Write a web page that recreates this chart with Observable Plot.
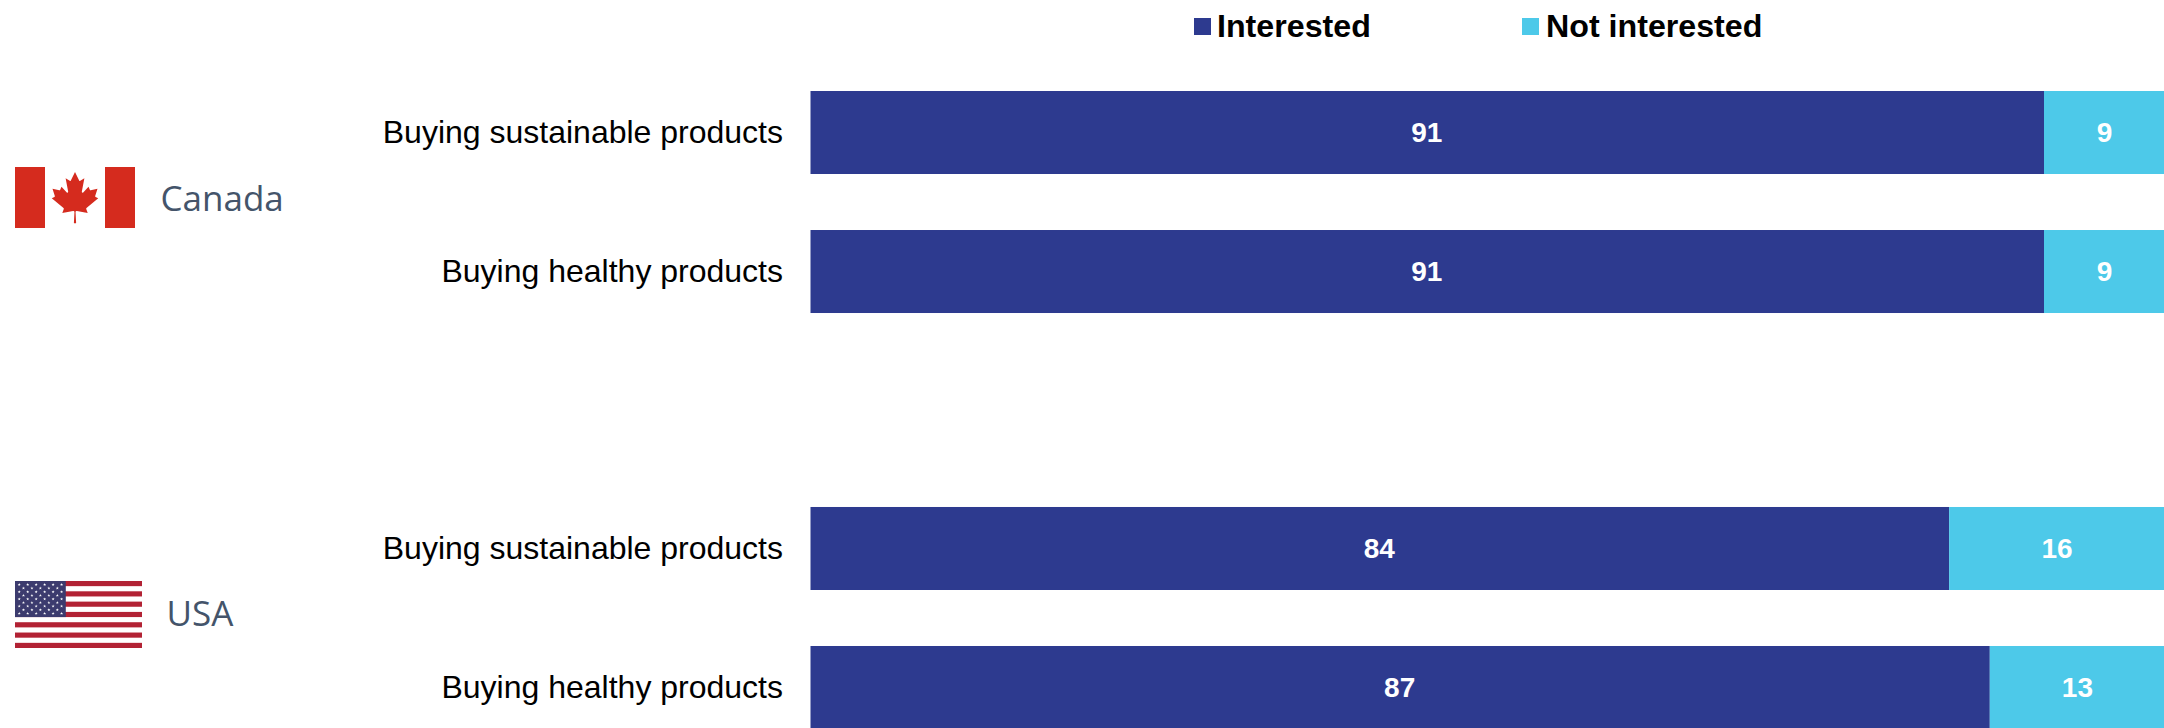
<!DOCTYPE html>
<html>
<head>
<meta charset="utf-8">
<script src="https://cdn.jsdelivr.net/npm/d3@7"></script>
<script src="https://cdn.jsdelivr.net/npm/@observablehq/plot@0.6"></script>
<style>
  html, body { margin: 0; padding: 0; background: #fff; overflow: hidden; }
  #chart { position: relative; width: 2164px; height: 728px; }
  #chart svg { display: block; }
  .key { position: absolute; top: 0; height: 54px; font: bold 32.2px "Liberation Sans", Arial, sans-serif; color: #000; }
  .key i { position: absolute; left: 0; top: 18px; width: 17px; height: 17px; }
  .key span { position: absolute; left: 23px; top: 8px; line-height: 36px; white-space: nowrap; }
</style>
</head>
<body>
<div id="chart"></div>
<script>
const countries = ["Canada", "USA"];
const activities = ["Buying sustainable products", "Buying healthy products"];
const responses = ["Interested", "Not interested"];
const responseColors = ["#2D3A8F", "#4DC9E9"];
const canadaInterested = [91, 91];
const canadaNotInterested = [9, 9];
const usaInterested = [84, 87];
const usaNotInterested = [16, 13];

const rows = [];
countries.forEach((country, c) => {
  const yes = c === 0 ? canadaInterested : usaInterested;
  const no = c === 0 ? canadaNotInterested : usaNotInterested;
  activities.forEach((activity, a) => {
    rows.push({country, activity, response: responses[0], value: yes[a]});
    rows.push({country, activity, response: responses[1], value: no[a]});
  });
});

// Flag artwork, kept as small standalone SVG images.
const toDataUri = (svg) => "data:image/svg+xml;charset=utf-8," + encodeURIComponent(svg);

const canadaFlag = toDataUri(`<svg xmlns="http://www.w3.org/2000/svg" viewBox="0 0 9600 4800" preserveAspectRatio="none">
<rect width="9600" height="4800" fill="#fff"/>
<rect width="2400" height="4800" fill="#D52B1E"/>
<rect x="7200" width="2400" height="4800" fill="#D52B1E"/>
<path fill="#D52B1E" d="M4890 4430l-45-863a95 95 0 0 1 111-98l859 151-116-320a65 65 0 0 1 20-73l941-762-212-99a65 65 0 0 1-34-79l186-572-542 115a65 65 0 0 1-73-38l-105-247-423 454a65 65 0 0 1-111-57l204-1052-327 189a65 65 0 0 1-91-27l-332-652-332 652a65 65 0 0 1-91 27l-327-189 204 1052a65 65 0 0 1-111 57l-423-454-105 247a65 65 0 0 1-73 38l-542-115 186 572a65 65 0 0 1-34 79l-212 99 941 762a65 65 0 0 1 20 73l-116 320 859-151a95 95 0 0 1 111 98l-45 863z"/>
</svg>`);

function starPoints(cx, cy, r) {
  const pts = [];
  for (let i = 0; i < 10; ++i) {
    const rad = i % 2 ? r * 0.382 : r;
    const a = -Math.PI / 2 + i * Math.PI / 5;
    pts.push(`${cx + rad * Math.cos(a)},${cy + rad * Math.sin(a)}`);
  }
  return pts.join(" ");
}

function usaFlagSvg() {
  const W = 7410, H = 3900, stripe = H / 13, cw = 2964, ch = stripe * 7;
  let body = `<rect width="${W}" height="${H}" fill="#fff"/>`;
  for (let i = 0; i < 13; i += 2) body += `<rect y="${i * stripe}" width="${W}" height="${stripe}" fill="#B22234"/>`;
  body += `<rect width="${cw}" height="${ch}" fill="#3C3B6E"/>`;
  for (let row = 0; row < 9; ++row) {
    const n = row % 2 ? 5 : 6;
    for (let col = 0; col < n; ++col) {
      const cx = cw / 12 * (2 * col + (row % 2 ? 2 : 1));
      const cy = ch / 10 * (row + 1);
      body += `<polygon fill="#fff" points="${starPoints(cx, cy, 95)}"/>`;
    }
  }
  return `<svg xmlns="http://www.w3.org/2000/svg" viewBox="0 0 ${W} ${H}" preserveAspectRatio="none">${body}</svg>`;
}

const flags = new Map([
  ["Canada", {src: canadaFlag, w: 120, h: 61, cx: 75, dy: -5, labelX: 160, labelDy: -2.5}],
  ["USA", {src: toDataUri(usaFlagSvg()), w: 127, h: 67, cx: 78.5, dy: -4, labelX: 166, labelDy: -4}]
]);

const plotLeft = 810.5;

const flagMarks = countries.map((country) => {
  const f = flags.get(country);
  return Plot.image([country], {
    fy: (d) => d,
    src: () => f.src,
    frameAnchor: "left",
    width: f.w,
    height: f.h,
    dx: f.cx - plotLeft - 0.5,
    dy: f.dy,
    preserveAspectRatio: "none"
  });
});

const countryLabels = countries.map((country) => {
  const f = flags.get(country);
  return Plot.text([country], {
    fy: (d) => d,
    text: (d) => d,
    frameAnchor: "left",
    textAnchor: "start",
    dx: f.labelX - plotLeft,
    dy: f.labelDy,
    fontFamily: "'Open Sans', 'Noto Sans', sans-serif",
    fontSize: 35,
    fill: "#44546A"
  });
});

const chart = Plot.plot({
  width: 2164,
  height: 728,
  marginTop: 91,
  marginBottom: -1,
  marginLeft: plotLeft,
  marginRight: 0,
  style: {background: "#fff", fontFamily: "'Liberation Sans', Arial, sans-serif"},
  x: {domain: [0, 100], range: [plotLeft, 2166], axis: null},
  y: {domain: activities, paddingInner: 0.4029, paddingOuter: 0, round: false, label: null},
  fy: {domain: countries, paddingInner: 0.4663, paddingOuter: 0, round: false, axis: null, label: null},
  color: {domain: responses, range: responseColors},
  marks: [
    Plot.barX(rows, Plot.stackX({x: "value", y: "activity", fy: "country", fill: "response", z: "response"})),
    Plot.text(rows, Plot.stackX({
      x: "value", y: "activity", fy: "country", z: "response",
      text: "value",
      dx: -1,
      fill: "#fff",
      fontWeight: "bold",
      fontSize: 28,
      fontFamily: "'Liberation Sans', Arial, sans-serif"
    })),
    Plot.axisY({
      tickSize: 0,
      tickPadding: 28,
      fontSize: 32,
      label: null,
      fill: "#000",
      fontFamily: "'Liberation Sans', Arial, sans-serif"
    }),
    ...flagMarks,
    ...countryLabels
  ]
});

const host = document.getElementById("chart");
host.appendChild(chart);

// Legend row above the first group of bars.
const keyLefts = [1194, 1522];
const keyGaps = [23, 24];
responses.forEach((name, i) => {
  const key = document.createElement("div");
  key.className = "key";
  key.style.left = keyLefts[i] + "px";
  const swatch = document.createElement("i");
  swatch.style.background = responseColors[i];
  const label = document.createElement("span");
  label.style.left = keyGaps[i] + "px";
  label.textContent = name;
  key.append(swatch, label);
  host.appendChild(key);
});
</script>
</body>
</html>
